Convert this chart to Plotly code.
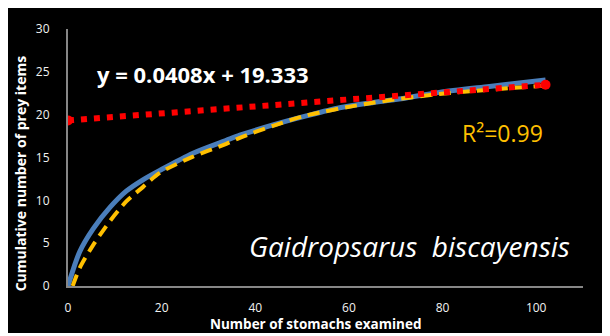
import plotly.graph_objects as go

# Observed cumulative curve (blue)
obs_x = [0, 2.5, 5.4, 9, 12.5, 16, 19.6, 26.7, 33.8, 36.7, 43.8, 50.9, 58, 65, 72.2, 79.3, 90, 102]
obs_y = [0, 4.0, 6.7, 9.2, 11.1, 12.4, 13.5, 15.5, 17.0, 17.6, 18.8, 19.85, 20.8, 21.4, 21.95, 22.6, 23.3, 24.05]

# Fitted curve (yellow dashed)
fit_x = [1, 2.5, 5.4, 9, 12.5, 16.1, 19.6, 26.7, 33.8, 36.7, 43.8, 50.9, 65.1, 79.3, 102]
fit_y = [0, 2.1, 4.8, 7.6, 9.9, 11.6, 13.2, 15.1, 16.6, 17.3, 18.7, 19.9, 21.4, 22.4, 23.4]

# Linear trendline (red dotted) end points
lin_x = [0, 102]
lin_y = [19.333, 23.49]

x_ticks = [0, 20, 40, 60, 80, 100]
y_ticks = [0, 5, 10, 15, 20, 25, 30]

FONT = "Open Sans"

fig = go.Figure()
fig.add_trace(go.Scatter(x=obs_x, y=obs_y, mode="lines",
                         line=dict(color="#4A7EBB", width=5, shape="spline", smoothing=0.8),
                         showlegend=False, hoverinfo="skip"))
fig.add_trace(go.Scatter(x=fit_x, y=fit_y, mode="lines",
                         line=dict(color="#FFC000", width=4, dash="12px,7px", shape="spline", smoothing=0.8),
                         showlegend=False, hoverinfo="skip"))
fig.add_trace(go.Scatter(x=lin_x, y=lin_y, mode="lines+markers",
                         line=dict(color="#FF0000", width=6, dash="6px,7px"),
                         marker=dict(color="#FF0000", size=10),
                         showlegend=False, hoverinfo="skip"))

fig.add_annotation(x=5.8, y=24.73, xref="x", yref="y", xanchor="left", yanchor="middle",
                   text="<b>y = 0.0408x + 19.333</b>", showarrow=False,
                   font=dict(family=FONT, size=22, color="white"))
fig.add_annotation(x=83.7, y=17.86, xref="x", yref="y", xanchor="left", yanchor="middle",
                   text="R²=0.99", showarrow=False,
                   font=dict(family=FONT, size=23, color="#FFC000"))
fig.add_annotation(x=38.2, y=4.7, xref="x", yref="y", xanchor="left", yanchor="middle",
                   text="<i>Gaidropsarus\u00a0 biscayensis</i>", showarrow=False,
                   font=dict(family=FONT, size=28, color="white"))
fig.add_annotation(x=0.48, y=-0.148, xref="paper", yref="paper", xanchor="center", yanchor="middle",
                   text="<b>Number of stomachs examined</b>", showarrow=False,
                   font=dict(family=FONT, size=13.5, color="white"))
fig.add_annotation(x=-0.093, y=0.435, xref="paper", yref="paper", xanchor="center", yanchor="middle",
                   text="<b>Cumulative number of prey items</b>", showarrow=False, textangle=-90,
                   font=dict(family=FONT, size=14, color="white"))

fig.update_xaxes(range=[0, 110], tickvals=x_ticks, showgrid=False, zeroline=False,
                 showline=True, linecolor="#868686", linewidth=2, ticks="",
                 ticklabelstandoff=10, tickfont=dict(family=FONT, size=12, color="#f2f2f2"))
fig.update_yaxes(range=[0, 30], tickvals=y_ticks, showgrid=False, zeroline=False,
                 showline=True, linecolor="#868686", linewidth=2, ticks="",
                 ticklabelstandoff=14, tickfont=dict(family=FONT, size=12, color="#f2f2f2"))

fig.update_layout(width=602, height=325, margin=dict(l=60, r=27, t=16, b=47),
                  paper_bgcolor="black", plot_bgcolor="black")

fig.write_html("out.html")
